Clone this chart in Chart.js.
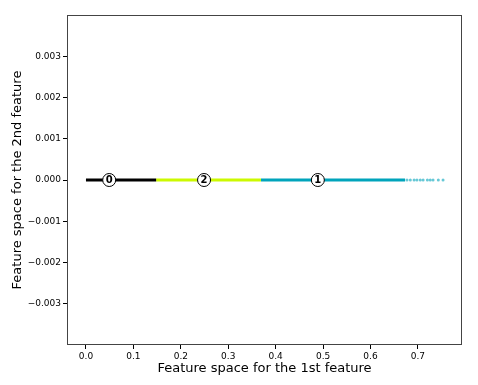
<!DOCTYPE html>
<html lang="en">
  <head>
    <title>Cluster scatter</title>
    <meta charset="UTF-8" />
    <style>
      html, body { margin: 0; padding: 0; background: #fff; }
      .box { width: 478px; height: 385px; }
    </style>
  </head>
  <body>
    <div class="box">
      <canvas id="myChart" width="478" height="385"></canvas>
    </div>
    <script src="https://cdn.jsdelivr.net/npm/chart.js@4"></script>
    <script>
      // cluster runs on the 1st feature (2nd feature is 0 everywhere)
      var clusterLabels = ["0", "1", "2"];
      var runStart = [0.000, 0.369, 0.148];
      var runEnd = [0.148, 0.673, 0.369];
      // sparse points at the right end of cluster 1
      var tailX = [0.677, 0.684, 0.692, 0.698, 0.705, 0.711, 0.720, 0.726, 0.732, 0.743, 0.753];
      // cluster centers
      var centerX = [0.049, 0.489, 0.249];
      var centerY = [0, 0, 0];
      var xTicks = [0, 0.1, 0.2, 0.3, 0.4, 0.5, 0.6, 0.7];
      var yTicks = [-0.003, -0.002, -0.001, 0, 0.001, 0.002, 0.003];

      var colors = ["#000000", "#00a4bb", "#ccf900"];

      var datasets = [];
      datasets.push({
        label: "centers",
        data: centerX.map(function (x, i) { return { x: x, y: centerY[i] }; }),
        pointRadius: 6.5,
        pointBackgroundColor: "#fff",
        pointBorderColor: "#000",
        pointBorderWidth: 1,
        order: 0
      });
      for (var i = 0; i < clusterLabels.length; i++) {
        datasets.push({
          label: "cluster " + clusterLabels[i],
          data: [{ x: runStart[i], y: 0 }, { x: runEnd[i], y: 0 }],
          showLine: true,
          borderColor: colors[i],
          borderWidth: 3,
          pointRadius: 0,
          order: 2
        });
      }
      datasets.push({
        label: "cluster 1 tail",
        data: tailX.map(function (x) { return { x: x, y: 0 }; }),
        pointRadius: 1.5,
        pointBorderWidth: 0,
        pointBackgroundColor: "rgba(0,164,187,0.6)",
        order: 1
      });

      var centerText = {
        id: "centerText",
        afterDatasetsDraw: function (chart) {
          var meta = chart.getDatasetMeta(0);
          var ctx = chart.ctx;
          ctx.save();
          ctx.fillStyle = "#000";
          ctx.font = "bold 10px 'DejaVu Sans'";
          ctx.textAlign = "center";
          ctx.textBaseline = "middle";
          meta.data.forEach(function (pt, i) {
            ctx.fillText(clusterLabels[i], pt.x, pt.y + 0.5);
          });
          ctx.restore();
        }
      };

      var frame = {
        id: "frame",
        afterDraw: function (chart) {
          var a = chart.chartArea;
          var ctx = chart.ctx;
          ctx.save();
          ctx.strokeStyle = "#444";
          ctx.lineWidth = 1;
          ctx.strokeRect(Math.round(a.left) + 0.5, Math.round(a.top) + 0.5,
            Math.round(a.right - a.left) - 1, Math.round(a.bottom - a.top) - 1);
          ctx.restore();
        }
      };

      var ctx = document.getElementById("myChart");
      var myChart = new Chart(ctx, {
        type: "scatter",
        data: { datasets: datasets },
        plugins: [centerText, frame],
        options: {
          responsive: false,
          animation: false,
          layout: { padding: { top: 15, right: 16, left: 0, bottom: 0 } },
          plugins: { legend: { display: false }, tooltip: { enabled: false } },
          scales: {
            x: {
              type: "linear",
              min: -0.04,
              max: 0.793,
              afterBuildTicks: function (scale) {
                scale.ticks = xTicks.map(function (v) { return { value: v }; });
              },
              afterFit: function (scale) { scale.height = 40; },
              border: { display: false },
              grid: { drawOnChartArea: false, drawTicks: true, tickLength: 4, tickColor: "#000" },
              ticks: {
                color: "#000",
                font: { family: "'DejaVu Sans'", size: 9 },
                padding: 2,
                maxRotation: 0,
                callback: function (v) { return v.toFixed(1); }
              },
              title: {
                display: true,
                text: "Feature space for the 1st feature",
                color: "#000",
                font: { family: "'DejaVu Sans'", size: 13 },
                padding: { top: 0, bottom: 9 }
              }
            },
            y: {
              type: "linear",
              min: -0.004,
              max: 0.004,
              afterBuildTicks: function (scale) {
                scale.ticks = yTicks.map(function (v) { return { value: v }; });
              },
              afterFit: function (scale) { scale.width = 67; },
              border: { display: false },
              grid: { drawOnChartArea: false, drawTicks: true, tickLength: 4, tickColor: "#000" },
              ticks: {
                color: "#000",
                font: { family: "'DejaVu Sans'", size: 9 },
                padding: 2,
                callback: function (v) {
                  var s = Math.abs(v).toFixed(3);
                  return v < -1e-9 ? "\u2212" + s : s;
                }
              },
              title: {
                display: true,
                text: "Feature space for the 2nd feature",
                color: "#000",
                font: { family: "'DejaVu Sans'", size: 13 },
                padding: { top: 10, bottom: 0 }
              }
            }
          }
        }
      });
    </script>
  </body>
</html>
